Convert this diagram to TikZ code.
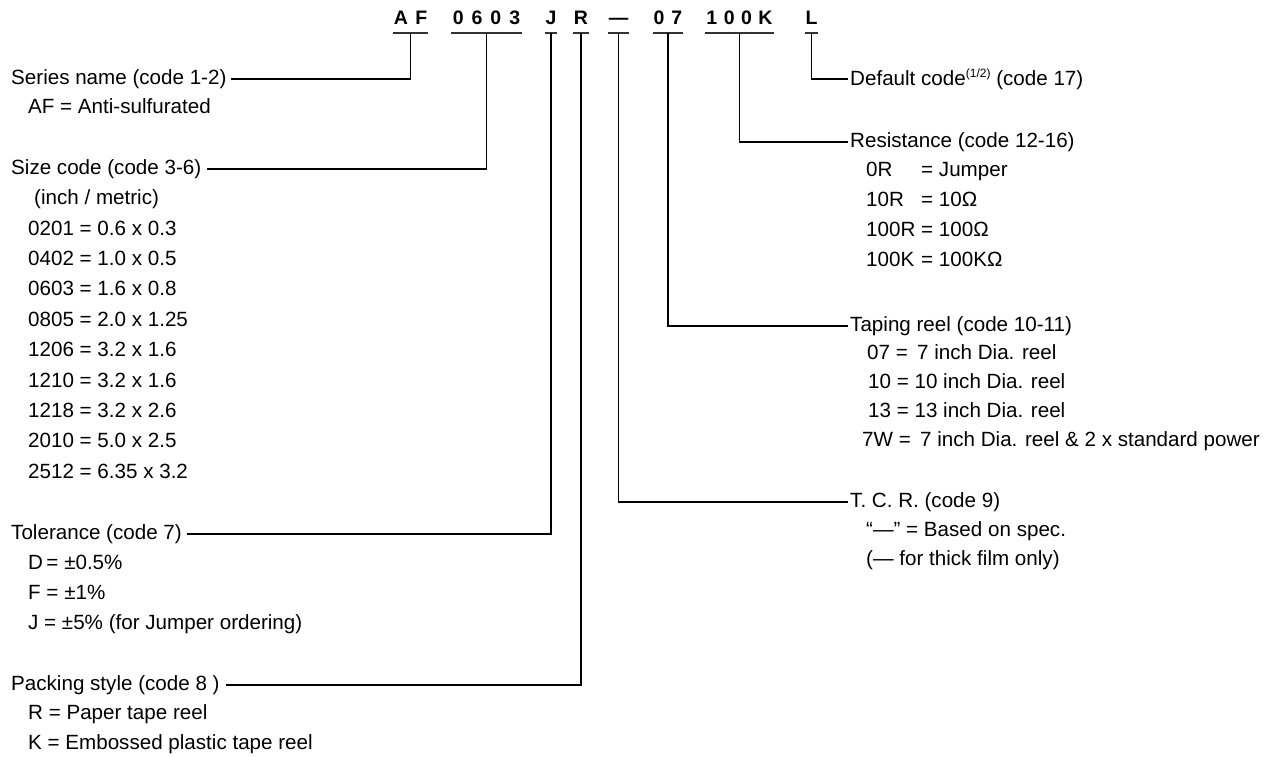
\documentclass[tikz,border=0pt]{standalone}
\usepackage{fontspec}
\setmainfont{Liberation Sans}
\newfontfamily\codefam{Liberation Sans}
\newcommand{\bodyfont}{\fontsize{20.6}{25}\selectfont}
\newcommand{\codefont}{\codefam\bfseries\fontsize{19.5}{22}\selectfont}
\newcommand{\supx}[1]{\raisebox{0.75ex}{\fontsize{12}{12}\selectfont #1}}
\begin{document}
\begin{tikzpicture}[x=1pt,y=-1pt,
  txt/.style={anchor=west, inner sep=0pt, font=\bodyfont, execute at begin node={\vphantom{(}}},
  codebox/.style={font=\codefont, anchor=south, inner xsep=0pt, inner ysep=8pt, text height=14pt, text depth=0pt},
  ul/.style={line width=1.6pt, black!80},
  conn/.style={line width=1.1pt, black}
]
\useasboundingbox (0,0) rectangle (1271,757);

% ---- code letters ----
\node[codebox, minimum width=35pt] (af) at (410.5,33) {A\hspace{7.5pt}F};
\node[codebox, minimum width=71pt] (size) at (486.5,33) {0\hspace{8pt}6\hspace{8pt}0\hspace{8pt}3};
\node[codebox, minimum width=12pt] (tol) at (551,33) {J};
\node[codebox, minimum width=16pt] (pack) at (581,33) {R};
\node[codebox, minimum width=21pt] (tcr) at (618.5,33) {—};
\node[codebox, minimum width=30pt] (reel) at (668,33) {0\hspace{7pt}7};
\node[codebox, minimum width=69pt] (res) at (739.5,33) {1\hspace{6.5pt}0\hspace{6.5pt}0\hspace{6.5pt}K};
\node[codebox, minimum width=13pt] (def) at (811.5,33) {L};
\foreach \n in {af,size,tol,pack,tcr,reel,res,def}
  \draw[ul] (\n.south west) -- (\n.south east);

% ---- left column ----
\node[txt] (seriesH) at (11,79) {Series name (code 1-2)};
\node[txt] (s1) at (28,108.5) {AF = Anti-sulfurated};

\node[txt] (sizeH) at (11,169) {Size code (code 3-6)};
\node[txt] (z0) at (34,199.4) {(inch / metric)};
\node[txt] (z1) at (28,229.8) {0201 = 0.6 x 0.3};
\node[txt] (z2) at (28,260.2) {0402 = 1.0 x 0.5};
\node[txt] (z3) at (28,290.6) {0603 = 1.6 x 0.8};
\node[txt] (z4) at (28,321.0) {0805 = 2.0 x 1.25};
\node[txt] (z5) at (28,351.4) {1206 = 3.2 x 1.6};
\node[txt] (z6) at (28,381.8) {1210 = 3.2 x 1.6};
\node[txt] (z7) at (28,412.2) {1218 = 3.2 x 2.6};
\node[txt] (z8) at (28,442.6) {2010 = 5.0 x 2.5};
\node[txt] (z9) at (28,473.0) {2512 = 6.35 x 3.2};

\node[txt] (tolH) at (11,534) {Tolerance (code 7)};
\node[txt] (t1) at (28,564) {D\,= ±0.5\%};
\node[txt] (t2) at (28,594) {F = ±1\%};
\node[txt] (t3) at (28,624) {J = ±5\% (for Jumper ordering)};

\node[txt] (packH) at (11,685) {Packing style (code 8 )};
\node[txt] (p1) at (28,714.5) {R = Paper tape reel};
\node[txt] (p2) at (28,744) {K = Embossed plastic tape reel};

% ---- right column ----
\node[txt] (defH) at (850,79) {Default code\supx{(1/2)} (code 17)};

\node[txt] (resH) at (850,142) {Resistance (code 12-16)};
\node[txt] (r1) at (866,171.5) {\makebox[2.67em][l]{0R}= Jumper};
\node[txt] (r2) at (866,201.5) {\makebox[2.67em][l]{10R}= 10Ω};
\node[txt] (r3) at (866,231.5) {\makebox[2.67em][l]{100R}= 100Ω};
\node[txt] (r4) at (866,261) {\makebox[2.67em][l]{100K}= 100KΩ};

\node[txt] (reelH) at (850,326) {Taping reel (code 10-11)};
\node[txt] (e1) at (867,354.5) {07 =\hspace{0.45em}7 inch Dia. reel};
\node[txt] (e2) at (868,383) {10 = 10 inch Dia. reel};
\node[txt] (e3) at (868,412) {13 = 13 inch Dia. reel};
\node[txt] (e4) at (862,441) {7W =\hspace{0.45em}7 inch Dia. reel \& 2 x standard power};

\node[txt] (tcrH) at (850,502) {T. C. R. (code 9)};
\node[txt] (c1) at (866,531) {“—” = Based on spec.};
\node[txt] (c2) at (866,560) {(— for thick film only)};

% ---- connectors ----
\draw[conn] (af.south) |- ([xshift=4pt]seriesH.east);
\draw[conn] (size.south) |- ([xshift=6pt]sizeH.east);
\draw[conn] (tol.south) |- ([xshift=5pt]tolH.east);
\draw[conn] (pack.south) |- ([xshift=6pt]packH.east);
\draw[conn] (tcr.south) |- ([xshift=-2pt]tcrH.west);
\draw[conn] (reel.south) |- ([xshift=-2pt]reelH.west);
\draw[conn] (res.south) |- ([xshift=-2pt]resH.west);
\draw[conn] (def.south) |- ([xshift=-2pt]defH.west);
\end{tikzpicture}
\end{document}
